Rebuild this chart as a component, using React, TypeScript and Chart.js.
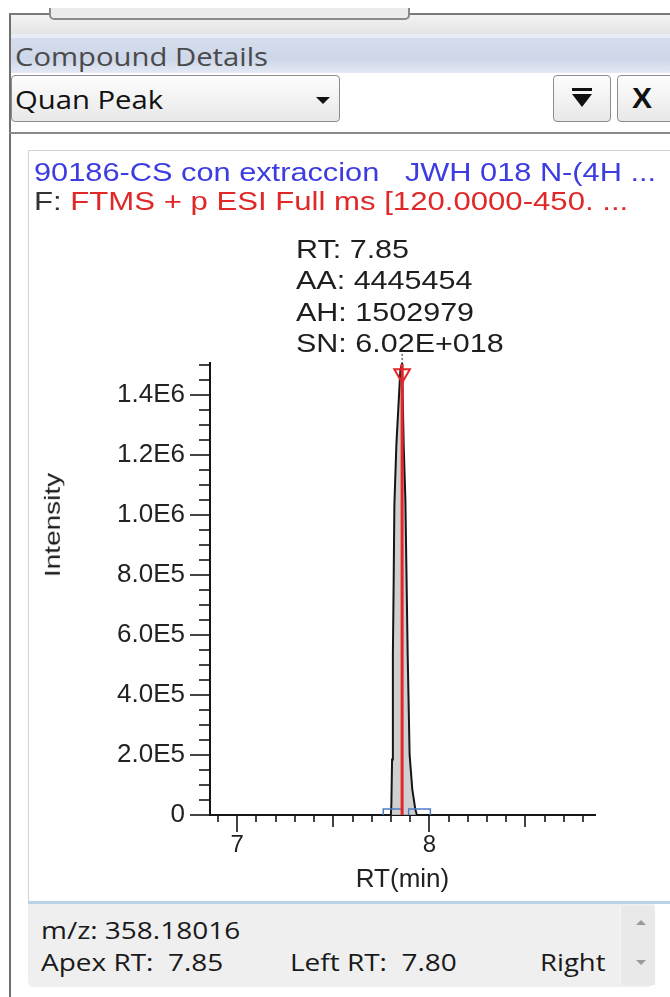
import React, { useEffect, useRef } from 'react';
import { Chart, registerables } from 'chart.js';

Chart.register(...registerables);

// ---------- data ----------
const chromRT = [6.858, 7.78, 7.7995, 7.802, 7.8057, 7.8099, 7.8141, 7.8177, 7.8281, 7.849, 7.8578, 7.8661, 7.875, 7.887, 7.897, 7.911, 7.927, 7.935, 7.96, 8.862];
const chromIntensity = [0, 0, 0, 35000, 185000, 534000, 784000, 1034000, 1234000, 1484000, 1502979, 1234000, 1051000, 534000, 201000, 85000, 18000, 0, 0, 0];

const apexRT = 7.858;
const apexIntensity = 1502979;
const apexMarkerIntensity = 1470000;
const apexGuideTop = 1545000;

const leftBoundRT = [7.76, 7.859];
const rightBoundRT = [7.892, 8.005];
const boundHeight = 20000;

const xMin = 6.858;
const xMax = 8.862;
const yMax = 1506000;

const xTickValues = [7, 8];
const xTickLabels = ['7', '8'];
const yTickValues = [0, 200000, 400000, 600000, 800000, 1000000, 1200000, 1400000];
const yTickLabels = ['0', '2.0E5', '4.0E5', '6.0E5', '8.0E5', '1.0E6', '1.2E6', '1.4E6'];
const yMinorStep = 50000;
const xMinorStep = 0.1;

const sampleTitle = '90186-CS con extraccion   JWH 018 N-(4H ...';
const filterPrefix = 'F: ';
const filterText = 'FTMS + p ESI Full ms [120.0000-450. ...';
const peakLabels = ['RT: 7.85', 'AA: 4445454', 'AH: 1502979', 'SN: 6.02E+018'];

const CHART_FONT = '"Liberation Sans", Arial, sans-serif';
const UI_FONT = '"Open Sans", "Noto Sans", sans-serif';

const tickMarks = {
  id: 'tickMarks',
  afterDraw(chart: any) {
    const { ctx, chartArea } = chart;
    const x = chart.scales.x;
    const y = chart.scales.y;
    ctx.save();
    ctx.strokeStyle = '#151515';
    ctx.lineWidth = 1.6;
    const nY = Math.floor(yMax / yMinorStep + 1e-6);
    for (let i = 0; i <= nY; i++) {
      const py = Math.round(y.getPixelForValue(i * yMinorStep));
      const len = i % 4 === 0 ? 20 : 11;
      ctx.beginPath();
      ctx.moveTo(chartArea.left - len, py);
      ctx.lineTo(chartArea.left, py);
      ctx.stroke();
    }
    const i0 = Math.ceil(xMin / xMinorStep - 1e-6);
    const i1 = Math.floor(xMax / xMinorStep + 1e-6);
    for (let i = i0; i <= i1; i++) {
      const px = Math.round(x.getPixelForValue(i * xMinorStep));
      const len = i % 10 === 0 ? 17 : i % 5 === 0 ? 12 : 7;
      ctx.beginPath();
      ctx.moveTo(px, chartArea.bottom);
      ctx.lineTo(px, chartArea.bottom + len);
      ctx.stroke();
    }
    ctx.restore();
  },
};

function ChromChart() {
  const ref = useRef<HTMLCanvasElement | null>(null);
  useEffect(() => {
    if (!ref.current) return;
    const pts = chromRT.map((v, i) => ({ x: v, y: chromIntensity[i] }));
    const chart = new Chart(ref.current, {
      type: 'scatter',
      data: {
        datasets: [
          {
            data: [{ x: apexRT, y: 0 }, { x: apexRT, y: apexIntensity }],
            showLine: true,
            borderColor: '#e3262a',
            borderWidth: 3,
            pointRadius: 0,
          },
          {
            data: [{ x: apexRT, y: apexMarkerIntensity }],
            pointStyle: 'triangle',
            rotation: 180,
            pointRadius: 9,
            borderColor: '#e3262a',
            backgroundColor: 'rgba(255,255,255,0)',
            borderWidth: 2,
            clip: false,
          },
          {
            data: [{ x: apexRT, y: apexIntensity }, { x: apexRT, y: apexGuideTop }],
            showLine: true,
            borderColor: '#222',
            borderWidth: 1,
            borderDash: [2, 2],
            pointRadius: 0,
            clip: false,
          },
          {
            data: [
              { x: leftBoundRT[0], y: 0 },
              { x: leftBoundRT[0], y: boundHeight },
              { x: leftBoundRT[1], y: boundHeight },
              { x: leftBoundRT[1], y: 0 },
            ],
            showLine: true,
            borderColor: '#4c7cc6',
            borderWidth: 1.5,
            pointRadius: 0,
          },
          {
            data: [
              { x: rightBoundRT[0], y: 0 },
              { x: rightBoundRT[0], y: boundHeight },
              { x: rightBoundRT[1], y: boundHeight },
              { x: rightBoundRT[1], y: 0 },
            ],
            showLine: true,
            borderColor: '#4c7cc6',
            borderWidth: 1.5,
            pointRadius: 0,
          },
          {
            data: pts,
            showLine: true,
            borderColor: '#161616',
            borderWidth: 2,
            backgroundColor: 'rgba(200,200,200,0.85)',
            fill: 'origin',
            pointRadius: 0,
            tension: 0,
          },
        ],
      },
      options: {
        animation: false,
        responsive: false,
        events: [],
        layout: { padding: { left: 0, right: 75, top: 223, bottom: 0 } },
        plugins: { legend: { display: false }, tooltip: { enabled: false } },
        scales: {
          x: {
            type: 'linear',
            min: xMin,
            max: xMax,
            afterFit: (s: any) => { s.height = 80; },
            afterBuildTicks: (s: any) => { s.ticks = xTickValues.map((v) => ({ value: v })); },
            grid: { display: false, drawTicks: false },
            border: { display: true, color: '#151515', width: 2 },
            ticks: {
              padding: 16,
              color: '#222',
              font: { family: CHART_FONT, size: 24 },
              callback: (v: any) => {
                const i = xTickValues.indexOf(Number(v));
                return i >= 0 ? xTickLabels[i] : '';
              },
            },
            title: {
              display: true,
              text: 'RT(min)',
              color: '#222',
              font: { family: CHART_FONT, size: 26 },
              padding: { top: 0, bottom: 0 },
            },
          },
          y: {
            type: 'linear',
            min: 0,
            max: yMax,
            afterFit: (s: any) => { s.width = 180; },
            afterBuildTicks: (s: any) => { s.ticks = yTickValues.map((v) => ({ value: v })); },
            grid: { display: false, drawTicks: false },
            border: { display: true, color: '#151515', width: 2 },
            ticks: {
              padding: 25,
              color: '#222',
              font: { family: CHART_FONT, size: 26 },
              callback: (v: any) => {
                const i = yTickValues.indexOf(Number(v));
                return i >= 0 ? yTickLabels[i] : '';
              },
            },
          },
        },
      },
      plugins: [tickMarks],
    } as any);
    return () => chart.destroy();
  }, []);
  return <canvas ref={ref} width={640} height={755} style={{ display: 'block' }} />;
}

const stretch = (sx: number): React.CSSProperties => ({
  transform: `scaleX(${sx})`,
  transformOrigin: '0 50%',
  whiteSpace: 'pre',
});

export default function App() {
  const abs = (s: React.CSSProperties): React.CSSProperties => ({ position: 'absolute', ...s });
  return (
    <div style={{ position: 'absolute', left: 0, top: 0, width: 670, height: 997, overflow: 'hidden', background: '#fff' }}>
      {/* window frame */}
      <div style={abs({ left: 9, top: 13, width: 2, height: 984, background: '#6f6f6f' })} />
      <div style={abs({ left: 9, top: 13, width: 661, height: 2, background: '#7a7a7a' })} />
      <div style={abs({ left: 11, top: 15, width: 659, height: 19, background: 'linear-gradient(#f3f3f3, #e4e4e4)' })} />
      <div style={abs({ left: 49, top: 8, width: 357, height: 10, border: '2px solid #8a8a8a', borderTop: 'none', borderRadius: '0 0 5px 5px', background: '#ececec' })} />
      <div style={abs({ left: 11, top: 34, width: 659, height: 4, background: '#e9ebf6' })} />
      <div style={abs({ left: 11, top: 38, width: 659, height: 35, background: 'linear-gradient(#d6deec, #cdd7e9 60%, #e4e9f4)' })} />
      <div style={abs({ left: 15, top: 40, height: 32, lineHeight: '32px', fontFamily: UI_FONT, fontSize: 25, color: '#4a4a4a', ...stretch(1.17) })}>Compound Details</div>

      {/* toolbar */}
      <div style={abs({ left: 11, top: 75, width: 327, height: 45, border: '1px solid #8c8c8c', borderRadius: 4, background: 'linear-gradient(#fdfdfd, #e8e8e8)' })} />
      <div style={abs({ left: 15, top: 80, height: 38, lineHeight: '38px', fontFamily: UI_FONT, fontSize: 25, color: '#111', ...stretch(1.17) })}>Quan Peak</div>
      <div style={abs({ left: 316, top: 97, width: 0, height: 0, borderLeft: '7px solid transparent', borderRight: '7px solid transparent', borderTop: '7px solid #111' })} />
      <div style={abs({ left: 553, top: 75, width: 56, height: 45, border: '1px solid #8c8c8c', borderRadius: 4, background: 'linear-gradient(#fdfdfd, #e8e8e8)' })} />
      <div style={abs({ left: 572, top: 88, width: 20, height: 3, background: '#111' })} />
      <div style={abs({ left: 572, top: 94, width: 0, height: 0, borderLeft: '10px solid transparent', borderRight: '10px solid transparent', borderTop: '13px solid #111' })} />
      <div style={abs({ left: 617, top: 75, width: 70, height: 45, border: '1px solid #8c8c8c', borderRadius: 4, background: 'linear-gradient(#fdfdfd, #e8e8e8)' })} />
      <div style={abs({ left: 632, top: 78, height: 40, lineHeight: '40px', fontFamily: CHART_FONT, fontWeight: 'bold', fontSize: 30, color: '#111' })}>X</div>
      <div style={abs({ left: 9, top: 132, width: 661, height: 2, background: '#8a8a8a' })} />

      {/* chart panel */}
      <div style={abs({ left: 28, top: 150, width: 660, height: 751, border: '1px solid #d4d4d4', background: '#fff' })} />
      <div style={abs({ left: 30, top: 140, width: 640, height: 755 })}>
        <ChromChart />
      </div>
      <div style={abs({ left: 34, top: 157, height: 30, lineHeight: '30px', fontFamily: CHART_FONT, fontSize: 25, color: '#3c3ce0', ...stretch(1.23) })}>{sampleTitle}</div>
      <div style={abs({ left: 34, top: 186, height: 30, lineHeight: '30px', fontFamily: CHART_FONT, fontSize: 25, color: '#e02828', ...stretch(1.245) })}>
        <span style={{ color: '#333' }}>{filterPrefix}</span>{filterText}
      </div>
      {peakLabels.map((t, i) => (
        <div key={t} style={abs({ left: 296, top: 234 + i * 31.3, height: 30, lineHeight: '30px', fontFamily: CHART_FONT, fontSize: 25, color: '#1e1e1e', ...stretch(1.22) })}>{t}</div>
      ))}
      <div style={abs({ left: 52, top: 525, width: 0, height: 0 })}>
        <div style={{ position: 'absolute', left: 0, top: 0, fontFamily: CHART_FONT, fontSize: 28, lineHeight: '30px', color: '#1e1e1e', whiteSpace: 'pre', transform: 'translate(-50%, -50%) rotate(-90deg) scaleY(0.82)' }}>Intensity</div>
      </div>

      {/* bottom info panel */}
      <div style={abs({ left: 28, top: 901, width: 642, height: 3, background: '#b8d3e8' })} />
      <div style={abs({ left: 28, top: 904, width: 626, height: 83, background: '#efefef', borderRadius: '0 0 6px 6px' })} />
      <div style={abs({ left: 620, top: 906, width: 34, height: 79, background: '#e9e9e9', borderLeft: '1px solid #f6f6f6' })} />
      <div style={abs({ left: 636, top: 920, width: 0, height: 0, borderLeft: '5px solid transparent', borderRight: '5px solid transparent', borderBottom: '5px solid #9a9a9a' })} />
      <div style={abs({ left: 636, top: 960, width: 0, height: 0, borderLeft: '5px solid transparent', borderRight: '5px solid transparent', borderTop: '5px solid #9a9a9a' })} />
      <div style={abs({ left: 41, top: 914, height: 32, lineHeight: '32px', fontFamily: UI_FONT, fontSize: 23.5, color: '#1a1a1a', ...stretch(1.19) })}>m/z: 358.18016</div>
      <div style={abs({ left: 41, top: 946, height: 32, lineHeight: '32px', fontFamily: UI_FONT, fontSize: 23.5, color: '#1a1a1a', ...stretch(1.19) })}>Apex RT:  7.85</div>
      <div style={abs({ left: 290, top: 946, height: 32, lineHeight: '32px', fontFamily: UI_FONT, fontSize: 23.5, color: '#1a1a1a', ...stretch(1.19) })}>Left RT:  7.80</div>
      <div style={abs({ left: 540, top: 946, height: 32, lineHeight: '32px', fontFamily: UI_FONT, fontSize: 23.5, color: '#1a1a1a', ...stretch(1.17) })}>Right</div>
    </div>
  );
}
